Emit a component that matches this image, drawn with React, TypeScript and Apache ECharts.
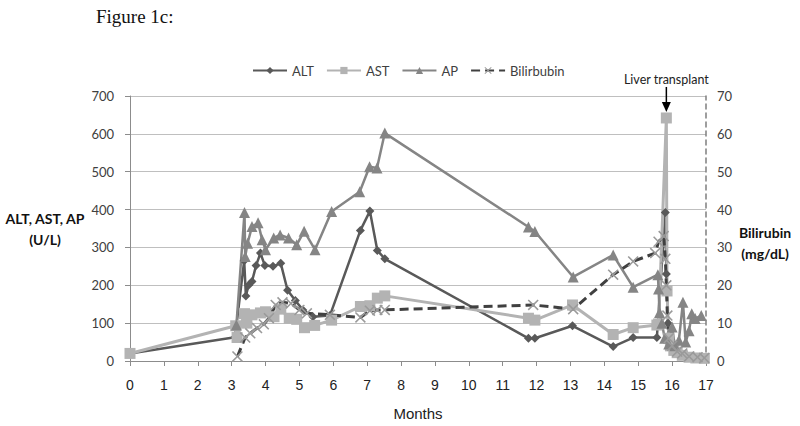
import React, { useEffect, useRef } from "react";
import * as echarts from "echarts";

const xTicks = [0, 17];
const altData: [number, number][] = [
  [0, 20], [3.1, 63], [3.37, 265], [3.42, 172], [3.5, 200], [3.6, 210], [3.72, 252], [3.85, 285], [3.98, 252],
  [4.22, 250], [4.45, 258], [4.65, 187], [4.88, 160], [5.1, 135], [5.4, 117], [5.9, 120], [6.8, 345],
  [7.08, 396], [7.3, 292], [7.52, 270], [11.76, 60], [11.95, 60], [13.06, 93], [14.26, 38], [14.85, 62],
  [15.55, 62], [15.8, 392], [15.83, 230], [15.88, 100], [15.95, 55], [16.05, 35], [16.2, 25], [16.4, 18],
  [16.6, 12], [16.9, 10],
];
const astData: [number, number][] = [
  [0, 20], [3.12, 93], [3.16, 62], [3.38, 125], [3.45, 100], [3.6, 122], [3.85, 127], [4.0, 130], [4.25, 117],
  [4.45, 137], [4.7, 113], [4.92, 110], [5.15, 88], [5.45, 94], [5.95, 108], [6.8, 144], [7.08, 146],
  [7.3, 166], [7.52, 172], [11.76, 113], [11.95, 108], [13.06, 148], [14.26, 70], [14.85, 88], [15.55, 95],
  [15.6, 98], [15.83, 642], [15.85, 185], [15.9, 60], [15.95, 40], [16.05, 28], [16.15, 22], [16.3, 15],
  [16.5, 10], [16.7, 8], [16.95, 7],
];
const apData: [number, number][] = [
  [3.14, 95], [3.38, 392], [3.4, 276], [3.47, 311], [3.6, 355], [3.78, 365], [3.9, 320], [4.0, 294],
  [4.24, 325], [4.43, 333], [4.68, 325], [4.92, 307], [5.14, 343], [5.46, 294], [5.95, 395], [6.78, 447],
  [7.07, 513], [7.29, 510], [7.52, 602], [11.76, 354], [11.95, 342], [13.08, 222], [14.26, 280],
  [14.85, 195], [15.58, 228], [15.6, 190], [15.63, 128], [15.7, 100], [15.78, 60], [15.9, 45], [16.0, 90],
  [16.08, 40], [16.2, 55], [16.32, 155], [16.4, 50], [16.5, 80], [16.58, 125], [16.68, 112], [16.86, 120],
];
const biliData: [number, number][] = [
  [3.17, 1.2], [3.4, 6.2], [3.55, 7.3], [3.75, 8.7], [3.95, 9.7], [4.1, 11.3], [4.3, 14.8], [4.5, 15.5],
  [4.75, 15.2], [5.0, 13.5], [5.22, 12.6], [5.9, 12.2], [6.8, 11.5], [7.08, 13.3], [7.3, 13.5], [7.52, 13.5],
  [11.9, 14.8], [13.08, 13.7], [14.26, 22.8], [14.85, 26.3], [15.5, 28.5], [15.6, 31.5], [15.75, 33],
  [15.8, 27], [15.83, 20], [15.86, 12], [15.9, 6], [16.0, 4], [16.15, 2.5], [16.3, 2], [16.5, 1.2],
  [16.75, 1], [16.95, 0.8],
];
const transplantPoint: [number, number] = [15.83, 642];
const legendNames = ["ALT", "AST", "AP", "Bilirbubin"];

const X_PATH =
  "path://M1,0 L5,4 L9,0 L10,1 L6,5 L10,9 L9,10 L5,6 L1,10 L0,9 L4,5 L0,1 Z";

export default function App() {
  const ref = useRef<HTMLDivElement>(null);
  useEffect(() => {
    if (!ref.current) return;
    const chart = echarts.init(ref.current, null, { renderer: "svg" });
    const calibri = "Lato, 'Noto Sans', sans-serif";
    const arial = "'Liberation Sans', Arial, sans-serif";
    chart.setOption({
      animation: false,
      backgroundColor: "#fff",
      grid: { left: 130, right: 94, top: 96, bottom: 65 },
      legend: {
        data: legendNames,
        left: 247,
        top: 59,
        itemWidth: 34,
        itemHeight: 9,
        itemGap: 12,
        textStyle: { fontFamily: calibri, fontSize: 13, color: "#404040" },
      },
      xAxis: {
        type: "value",
        min: xTicks[0],
        max: xTicks[1],
        interval: 1,
        name: "Months",
        nameLocation: "middle",
        nameGap: 45,
        nameTextStyle: { fontFamily: arial, fontSize: 15, color: "#222" },
        axisLine: { show: true, lineStyle: { color: "#8c8c8c", width: 1 } },
        axisTick: { show: true, length: 5, lineStyle: { color: "#8c8c8c" } },
        axisLabel: { fontFamily: arial, fontSize: 14, color: "#222", margin: 17 },
        splitLine: { show: false },
      },
      yAxis: [
        {
          type: "value",
          min: 0,
          max: 700,
          interval: 100,
          name: "ALT, AST, AP\n(U/L)",
          nameLocation: "middle",
          nameRotate: 0,
          nameGap: 85,
          nameTextStyle: {
            fontFamily: calibri,
            fontSize: 14,
            fontWeight: "bold",
            color: "#111",
            lineHeight: 21,
            align: "center",
          },
          axisLine: { show: true, lineStyle: { color: "#8c8c8c", width: 1 } },
          axisTick: { show: true, length: 5, lineStyle: { color: "#8c8c8c" } },
          axisLabel: { fontFamily: calibri, fontSize: 13, color: "#404040", margin: 16 },
          splitLine: { show: true, lineStyle: { color: "#bfbfbf", width: 1 } },
        },
        {
          type: "value",
          min: 0,
          max: 70,
          interval: 10,
          position: "right",
          axisLine: { show: true, lineStyle: { color: "#7f7f7f", width: 1.5, type: [5, 4] } },
          axisTick: { show: false },
          axisLabel: { fontFamily: calibri, fontSize: 13, color: "#404040", margin: 11 },
          splitLine: { show: false },
        },
      ],
      series: [
        {
          name: "ALT",
          type: "line",
          data: altData,
          symbol: "diamond",
          symbolSize: 9,
          itemStyle: { color: "#595959" },
          lineStyle: { color: "#595959", width: 2.5 },
        },
        {
          name: "AST",
          type: "line",
          data: astData,
          symbol: "rect",
          symbolSize: 11,
          itemStyle: { color: "#b3b3b3" },
          lineStyle: { color: "#b3b3b3", width: 3 },
        },
        {
          name: "AP",
          type: "line",
          data: apData,
          symbol: "triangle",
          symbolSize: 11,
          itemStyle: { color: "#858585" },
          lineStyle: { color: "#858585", width: 2.5 },
        },
        {
          name: "Bilirbubin",
          type: "line",
          yAxisIndex: 1,
          data: biliData,
          symbol: X_PATH,
          symbolSize: 11,
          itemStyle: { color: "#9a9a9a" },
          lineStyle: { color: "#404040", width: 3, type: [9, 5] },
        },
      ],
    });
    const p = chart.convertToPixel({ xAxisIndex: 0, yAxisIndex: 0 }, transplantPoint) as number[];
    const x = p[0];
    const y = p[1];
    chart.setOption({
      graphic: [
        {
          type: "text",
          x,
          y: y - 38,
          style: {
            text: "Liver transplant",
            fontFamily: calibri,
            fontSize: 12.5,
            fill: "#222",
            align: "center",
            verticalAlign: "middle",
          },
        },
        {
          type: "line",
          shape: { x1: x, y1: y - 31, x2: x, y2: y - 15 },
          style: { stroke: "#000", lineWidth: 1.5 },
        },
        {
          type: "polygon",
          shape: { points: [[x - 4.5, y - 16], [x + 4.5, y - 16], [x, y - 6]] },
          style: { fill: "#000" },
        },
        {
          type: "text",
          x: 765,
          y: 243,
          style: {
            text: "Bilirubin\n(mg/dL)",
            fontFamily: calibri,
            fontSize: 14,
            fontWeight: "bold",
            fill: "#111",
            lineHeight: 21,
            align: "center",
            verticalAlign: "middle",
          },
        },
        {
          type: "text",
          left: 96,
          top: 7,
          style: {
            text: "Figure 1c:",
            fontFamily: "'Liberation Serif', 'Times New Roman', serif",
            fontSize: 19,
            fill: "#111",
          },
        },
      ],
    });
    return () => chart.dispose();
  }, []);
  return <div ref={ref} style={{ width: 800, height: 426, position: "absolute", left: 0, top: 0 }} />;
}
